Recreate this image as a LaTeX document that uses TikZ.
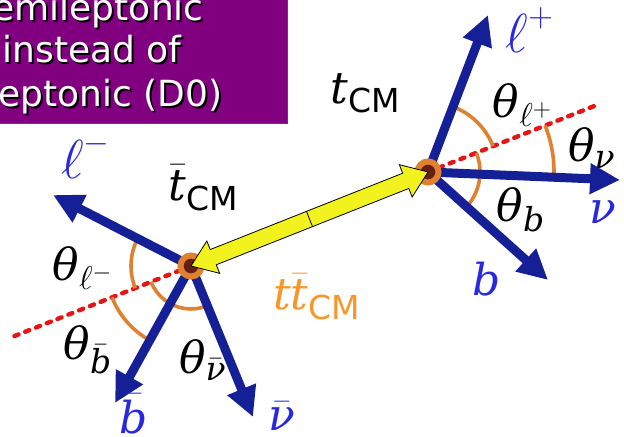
\RequirePackage{fix-cm}
\documentclass[tikz,border=0pt]{standalone}
\usepackage{amsmath}
\usepackage{fontspec}
\setmainfont{DejaVu Sans}
\newfontfamily\lblfont{DejaVu Serif}
\usepackage{tikz}
\usetikzlibrary{arrows.meta,calc,shapes.arrows}

\definecolor{boxpurple}{RGB}{128,0,128}
\definecolor{ptclblue}{RGB}{22,32,150}
\definecolor{lblblue}{RGB}{40,40,225}
\definecolor{arcorange}{RGB}{222,130,50}
\definecolor{cmorange}{RGB}{248,150,40}
\definecolor{dashred}{RGB}{230,20,20}
\definecolor{boostyellow}{RGB}{242,242,30}
\definecolor{vtxbrown}{RGB}{105,30,20}

\DeclareMathSizes{22}{22}{16.5}{12}
\newcommand{\lit}[1]{\text{\lblfont\itshape #1}}
\newcommand{\bigell}{\text{\scalebox{1.25}{$\ell$}}}

\tikzset{
  ptcl/.style={line width=4.5pt, draw=ptclblue, -{Triangle[length=15pt,width=14.5pt]}},
  axis/.style={dashred, line width=2.2pt, line cap=round, dash pattern=on 2.2pt off 3.6pt},
  angarc/.style={arcorange, line width=1.8pt},
  vtx/.style={circle, fill=vtxbrown, draw=arcorange, line width=3pt, minimum size=10.5pt, inner sep=0pt},
  boost/.style={double arrow, draw=black, line width=0.4pt, fill=boostyellow,
    minimum height=127.5pt, inner xsep=0pt, inner ysep=3.9pt,
    double arrow head extend=4.6pt, double arrow tip angle=72},
  lbl/.style={font=\fontsize{22}{26}\selectfont, inner sep=0pt},
  ptclname/.style={lbl, text=lblblue},
  boxtxt/.style={font=\fontsize{18}{21}\selectfont, anchor=base east, inner sep=0pt}
}

\newcommand{\shadowline}[3]{%
  \node[boxtxt, text=black] (#1s) at ($(#2)+(0.8pt,-0.8pt)$) {#3};
  \node[boxtxt, text=white] (#1) at (#2) {#3};}

\begin{document}
\begin{tikzpicture}[x=0.5pt,y=0.5pt]
 \useasboundingbox (0,0) rectangle (624,-437);
 \clip (0,0) rectangle (624,-437);

 % the note
 \fill[boxpurple, draw=black!70, line width=0.5pt] (-4,4) rectangle (287,-124);
 \shadowline{ln1}{204,-21}{Semileptonic}
 \shadowline{ln2}{182,-63}{instead of}
 \shadowline{ln3}{223,-107}{Dileptonic (D0)}

 \coordinate (t) at (428,-172);
 \coordinate (tb) at (191,-266);

 \coordinate (lpend) at (488,-15);
 \coordinate (nuend) at (620,-180);
 \coordinate (bend) at (548,-280);
 \coordinate (lmend) at (53,-195);
 \coordinate (bbend) at (115,-403);
 \coordinate (nubend) at (253,-417);

 \draw[axis] (t) -- ($(tb)!1.70!(t)$)  (tb) -- ($(t)!1.75!(tb)$);

 \draw[angarc] ($(t)+(21.6:35pt)$) arc[start angle=21.6, end angle=69.1, radius=35pt];
 \draw[angarc] ($(t)+(-2.4:63pt)$) arc[start angle=-2.4, end angle=21.6, radius=63pt];
 \draw[angarc] ($(t)+(-42:26pt)$) arc[start angle=-42, end angle=21.6, radius=26pt];

 \draw[angarc] ($(tb)+(152.8:30pt)$) arc[start angle=152.8, end angle=201.6, radius=30pt];
 \draw[angarc] ($(tb)+(201.6:42.5pt)$) arc[start angle=201.6, end angle=241, radius=42.5pt];
 \draw[angarc] ($(tb)+(201.6:21.5pt)$) arc[start angle=201.6, end angle=292.3, radius=21.5pt];

 \draw[ptcl] (t) -- (lpend);
 \draw[ptcl] (t) -- (nuend);
 \draw[ptcl] (t) -- (bend);
 \draw[ptcl] (tb) -- (lmend);
 \draw[ptcl] (tb) -- (bbend);
 \draw[ptcl] (tb) -- (nubend);

 \node[vtx] (tvtx) at (t) {};
 \node[vtx] (tbvtx) at (tb) {};

 \path (tb) -- (t) node[boost, midway, sloped] (boostarr) {};
 \draw[line width=0.4pt] ($(tb)!0.5!(t)!3.9pt!90:(t)$) -- ($(tb)!0.5!(t)!3.9pt!-90:(t)$);

 \node[lbl] (tcm) at (366,-93) {$\lit{t}_{\text{CM}}$};
 \node[lbl] (tbcm) at (204,-188) {$\bar{\lit{t}}_{\text{CM}}$};
 \node[lbl, text=cmorange] (ttcm) at (317,-297) {$\lit{t}\bar{\lit{t}}_{\text{CM}}$};

 \node[ptclname] (lp) at (530,-30) {$\bigell^{+}$};
 \node[ptclname] (nu) at (603,-212) {$\lit{ν}$};
 \node[ptclname] (b) at (487,-279) {$\lit{b}$};
 \node[ptclname] (lm) at (86,-156) {$\bigell^{-}$};
 \node[ptclname] (bb) at (134,-414) {$\bar{\lit{b}}$};
 \node[ptclname] (nub) at (282,-416) {$\bar{\lit{ν}}$};

 \node[lbl] (thlp) at (523,-105) {$\lit{θ}_{\ell^{+}}$};
 \node[lbl] (thnu) at (592,-148) {$\lit{θ}_{\lit{ν}}$};
 \node[lbl] (thb) at (521,-210) {$\lit{θ}_{\lit{b}}$};
 \node[lbl] (thlm) at (83,-268) {$\lit{θ}_{\ell^{-}}$};
 \node[lbl] (thbb) at (88,-350) {$\lit{θ}_{\bar{\lit{b}}}$};
 \node[lbl] (thnub) at (203,-360) {$\lit{θ}_{\bar{\lit{ν}}}$};
\end{tikzpicture}
\end{document}
